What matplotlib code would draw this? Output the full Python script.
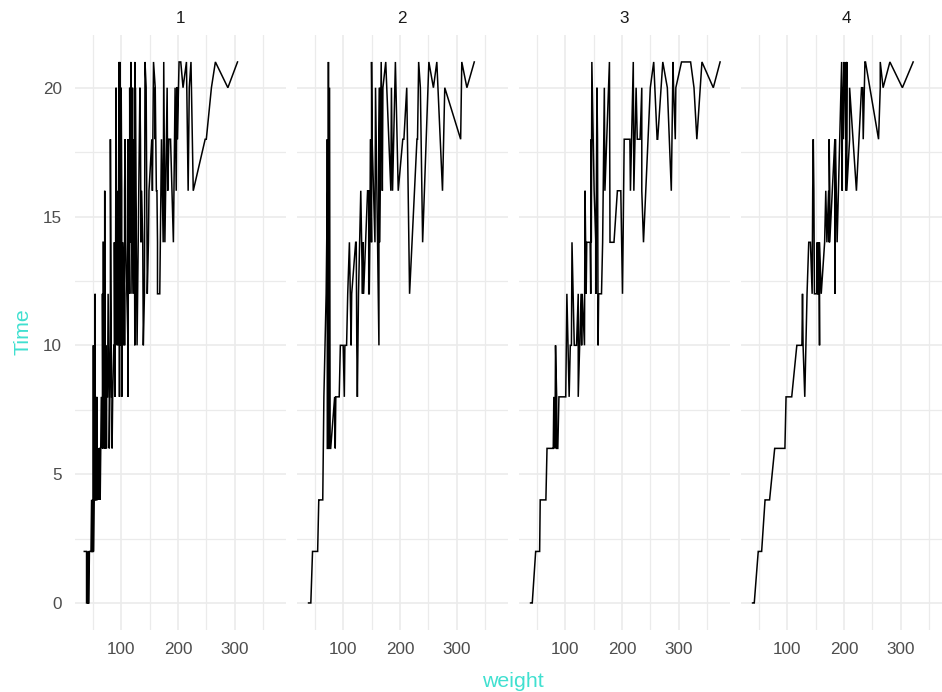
import numpy as np
import matplotlib
matplotlib.use("Agg")
import matplotlib.pyplot as plt

# ChickWeight: body weight by day, one row per chick, grouped by diet
times = [0, 2, 4, 6, 8, 10, 12, 14, 16, 18, 20, 21]

diet1 = [
    [42, 51, 59, 64, 76, 93, 106, 125, 149, 171, 199, 205],
    [40, 49, 58, 72, 84, 103, 122, 138, 162, 187, 209, 215],
    [43, 39, 55, 67, 84, 99, 115, 138, 163, 187, 198, 202],
    [42, 49, 56, 67, 74, 87, 102, 108, 136, 154, 160, 157],
    [41, 42, 48, 60, 79, 106, 141, 164, 197, 199, 220, 223],
    [41, 49, 59, 74, 97, 124, 141, 148, 155, 160, 160, 157],
    [41, 49, 57, 71, 89, 112, 146, 174, 218, 250, 288, 305],
    [42, 50, 61, 71, 84, 93, 110, 116, 126, 134, 125],
    [42, 51, 59, 68, 85, 96, 90, 92, 93, 100, 100, 98],
    [41, 44, 52, 63, 74, 81, 89, 96, 101, 112, 120, 124],
    [43, 51, 63, 84, 112, 139, 168, 177, 182, 184, 181, 175],
    [41, 49, 56, 62, 72, 88, 119, 135, 162, 185, 195, 205],
    [41, 48, 53, 60, 65, 67, 71, 70, 71, 81, 91, 96],
    [41, 49, 62, 79, 101, 128, 164, 192, 227, 248, 259, 266],
    [41, 49, 56, 64, 68, 68, 67, 68],
    [41, 45, 49, 51, 57, 51, 54],
    [42, 51, 61, 72, 83, 89, 98, 103, 113, 123, 133, 142],
    [39, 35],
    [43, 48, 55, 62, 65, 71, 82, 88, 106, 120, 144, 157],
    [41, 47, 54, 58, 65, 73, 77, 89, 98, 107, 115, 117],
]

diet2 = [
    [40, 50, 62, 86, 125, 163, 217, 240, 275, 307, 318, 331],
    [41, 55, 64, 77, 90, 95, 108, 111, 131, 148, 164, 167],
    [43, 52, 61, 73, 90, 103, 127, 135, 145, 163, 170, 175],
    [42, 52, 58, 74, 66, 68, 70, 71, 72, 72, 76, 74],
    [40, 49, 62, 78, 102, 124, 146, 164, 197, 231, 259, 265],
    [42, 48, 57, 74, 93, 114, 136, 147, 169, 205, 236, 251],
    [39, 46, 58, 73, 87, 100, 115, 123, 144, 163, 185, 192],
    [39, 46, 58, 73, 92, 114, 145, 156, 184, 207, 212, 233],
    [39, 48, 59, 74, 87, 106, 134, 150, 187, 230, 279, 309],
    [42, 48, 59, 72, 85, 98, 115, 122, 143, 151, 157, 150],
]

diet3 = [
    [42, 53, 62, 73, 85, 102, 123, 138, 170, 204, 235, 256],
    [41, 49, 65, 82, 107, 129, 159, 179, 221, 263, 291, 305],
    [39, 50, 63, 77, 96, 111, 137, 144, 151, 146, 156, 147],
    [41, 49, 63, 85, 107, 134, 164, 186, 235, 294, 327, 341],
    [41, 53, 64, 87, 123, 158, 201, 238, 287, 332, 361, 373],
    [39, 48, 61, 76, 98, 116, 145, 166, 198, 227, 225, 220],
    [41, 48, 56, 68, 80, 83, 103, 112, 135, 157, 169, 178],
    [41, 49, 61, 74, 98, 109, 128, 154, 192, 232, 280, 290],
    [42, 50, 61, 78, 89, 109, 130, 146, 170, 214, 250, 272],
    [41, 55, 66, 79, 101, 120, 154, 182, 215, 262, 295, 321],
]

diet4 = [
    [42, 51, 66, 85, 103, 124, 155, 153, 175, 184, 199, 204],
    [42, 49, 63, 84, 103, 126, 160, 174, 204, 234, 269, 281],
    [42, 55, 69, 96, 131, 157, 184, 188, 197, 198, 199, 200],
    [42, 51, 65, 86, 103, 118, 127, 138, 145, 146],
    [41, 50, 61, 78, 98, 117, 135, 141, 147, 174, 197, 196],
    [40, 52, 62, 82, 101, 120, 144, 156, 173, 210, 231, 238],
    [41, 53, 66, 79, 100, 123, 148, 157, 168, 185, 210, 205],
    [39, 50, 62, 80, 104, 125, 154, 170, 222, 261, 303, 322],
    [40, 53, 64, 85, 108, 128, 152, 166, 184, 203, 233, 237],
    [41, 54, 67, 84, 105, 122, 155, 175, 205, 234, 264, 264],
]

diets = [diet1, diet2, diet3, diet4]
diet_labels = ["1", "2", "3", "4"]

TITLE_COL = "#40E0D0"
TICK_COL = "#4D4D4D"
GRID_COL = "#EBEBEB"

plt.rcParams["font.family"] = ["Liberation Sans", "DejaVu Sans"]

W, H = 942, 692
fig = plt.figure(figsize=(W / 100, H / 100), dpi=100)

all_w = [w for d in diets for chick in d for w in chick]
x_lo, x_hi = min(all_w), max(all_w)
pad = (x_hi - x_lo) * 0.05

# panel geometry in pixels
left0, pw, step = 74.7, 211.0, 222.0
top, bottom = 34.9, 630.0

for i, (d, lab) in enumerate(zip(diets, diet_labels)):
    ax = fig.add_axes([(left0 + i * step) / W, 1 - bottom / H, pw / W, (bottom - top) / H])
    w = np.concatenate([np.array(c, dtype=float) for c in d])
    t = np.concatenate([np.array(times[:len(c)], dtype=float) for c in d])
    order = np.argsort(w, kind="stable")
    ax.plot(w[order], t[order], color="black", lw=1.1, solid_joinstyle="miter")

    ax.set_xlim(x_lo - pad, x_hi + pad)
    ax.set_ylim(-1.05, 22.05)
    ax.set_xticks([100, 200, 300])
    ax.set_xticks([50, 150, 250, 350], minor=True)
    ax.set_yticks([0, 5, 10, 15, 20])
    ax.set_yticks([2.5, 7.5, 12.5, 17.5], minor=True)
    ax.grid(which="major", color=GRID_COL, lw=1.2)
    ax.grid(which="minor", color=GRID_COL, lw=0.9)
    ax.set_axisbelow(True)
    for s in ax.spines.values():
        s.set_visible(False)
    ax.tick_params(which="both", length=0, labelsize=12.3, labelcolor=TICK_COL)
    ax.tick_params(axis="x", pad=9)
    ax.tick_params(axis="y", pad=9)
    if i > 0:
        ax.tick_params(axis="y", labelleft=False)
    ax.set_title(lab, fontsize=12.3, color="#1A1A1A", pad=8.5)

fig.text(23 / W, 1 - 332 / H, "Time", rotation=90, ha="center", va="center",
         fontsize=15.4, color=TITLE_COL)
fig.text(512.5 / W, 1 - 687 / H, "weight", ha="center", va="baseline",
         fontsize=15.4, color=TITLE_COL)

fig.savefig("out.png", dpi=100)
